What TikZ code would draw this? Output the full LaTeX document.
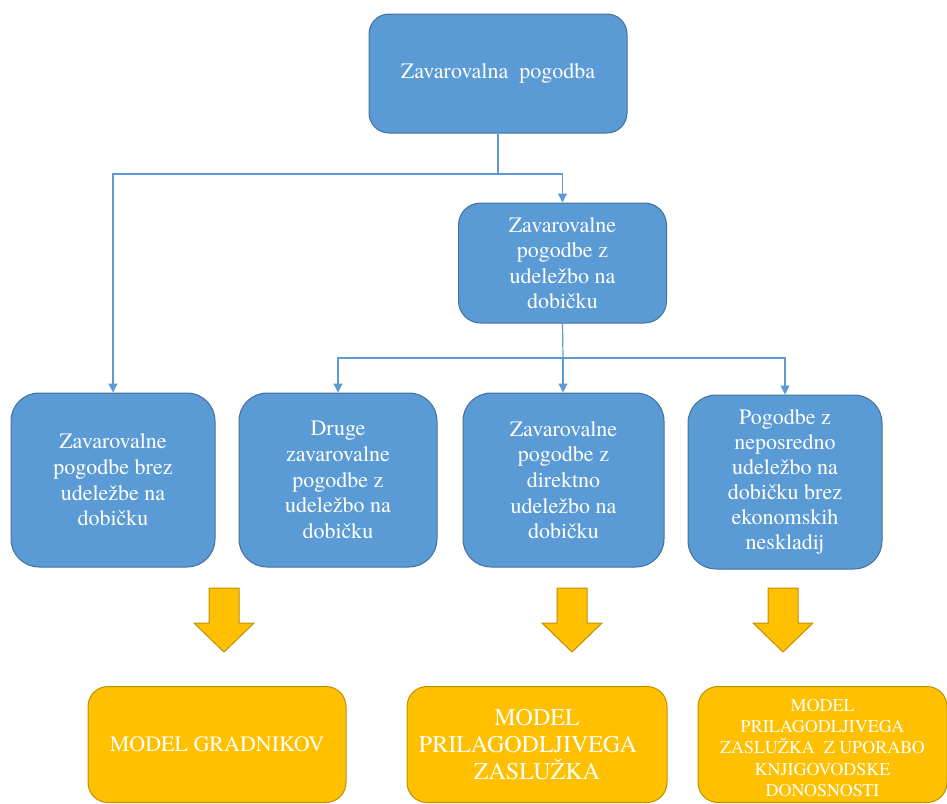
\documentclass[tikz,border=0pt]{standalone}
\usepackage{fontspec}
\setmainfont{TeX Gyre Termes}
\usetikzlibrary{arrows.meta}
\definecolor{bfill}{HTML}{5B9BD5}
\definecolor{bdraw}{HTML}{41719C}
\definecolor{yfill}{HTML}{FFC000}
\definecolor{ydraw}{HTML}{BF9000}
\tikzset{
  bbox/.style={draw=bdraw, fill=bfill, line width=1pt, rounded corners=22pt, text=white, align=center, inner sep=0pt},
  rowbox/.style={bbox, minimum height=174pt, rounded corners=28pt, font=\fontsize{22}{25.7}\selectfont},
  ybox/.style={draw=ydraw, fill=yfill, line width=1pt, rounded corners=20pt, text=white, align=center, inner sep=0pt, minimum height=116pt},
  conn/.style={draw=bfill, line width=1.2pt},
  arr/.style={conn, -{Triangle[width=9pt,length=9pt]}},
  barrow/.style={draw=ydraw, fill=yfill, line width=1pt, line join=miter},
}
\begin{document}
\begin{tikzpicture}[x=1pt,y=-1pt]
\useasboundingbox (0,0) rectangle (947,803);
% top
\node[bbox, minimum width=258pt, minimum height=119pt, rounded corners=20pt, font=\fontsize{22}{28}\selectfont] (top) at (498,73.5) {Zavarovalna\ \ pogodba};
\node[bbox, minimum width=208pt, minimum height=120pt, font=\fontsize{22}{25.5}\selectfont] (mid) at (562.5,263) {Zavarovalne\\pogodbe z\\udeležbo na\\dobičku};
% row
\node[rowbox, minimum width=204pt] (A) at (113,480) {Zavarovalne\\pogodbe brez\\udeležbe na\\dobičku};
\node[rowbox, minimum width=198pt] (B) at (338,480) {Druge\\zavarovalne\\pogodbe z\\udeležbo na\\dobičku};
\node[rowbox, minimum width=201pt] (C) at (563.5,480) {Zavarovalne\\pogodbe z\\direktno\\udeležbo na\\dobičku};
\node[rowbox, minimum width=194pt, font=\fontsize{22}{25}\selectfont] (D) at (785,482) {Pogodbe z\\neposredno\\udeležbo na\\dobičku brez\\ekonomskih\\neskladij};
% bottom
\node[ybox, minimum width=258pt, font=\fontsize{22}{27}\selectfont] (E) at (217,744.5) {MODEL GRADNIKOV};
\node[ybox, minimum width=260pt, font=\fontsize{24}{27}\selectfont] (F) at (537,744.5) {MODEL\\PRILAGODLJIVEGA\kern18pt\\ZASLUŽKA};
\node[ybox, minimum width=249pt] (G) at (822.5,744.5) {};
\node[text=white, align=center, inner sep=0pt, font=\fontsize{18}{21.3}\selectfont] (Gt) at (822.5,748) {MODEL\\PRILAGODLJIVEGA\\ZASLUŽKA\ \ Z UPORABO\\KNJIGOVODSKE\\DONOSNOSTI};
% connectors
\coordinate (j1) at (498,174);
\coordinate (j2) at (563,358);
\draw[conn] (top.south) -- (j1);
\draw[arr] (j1) -| (A.north);
\draw[arr] (j1) -| (mid.north);
\draw[conn] (mid.south) -- (j2);
\draw[arr] (j2) -| (B.north);
\draw[arr] (j2) -- (j2 |- C.north);
\draw[arr] (j2) -| (D.north);
% block arrows
\foreach \cx in {224,572,783} {
  \draw[barrow] (\cx-15,588) -- (\cx+15,588) -- (\cx+15,623) -- (\cx+30,623) -- (\cx,652) -- (\cx-30,623) -- (\cx-15,623) -- cycle;
}
\end{tikzpicture}
\end{document}
